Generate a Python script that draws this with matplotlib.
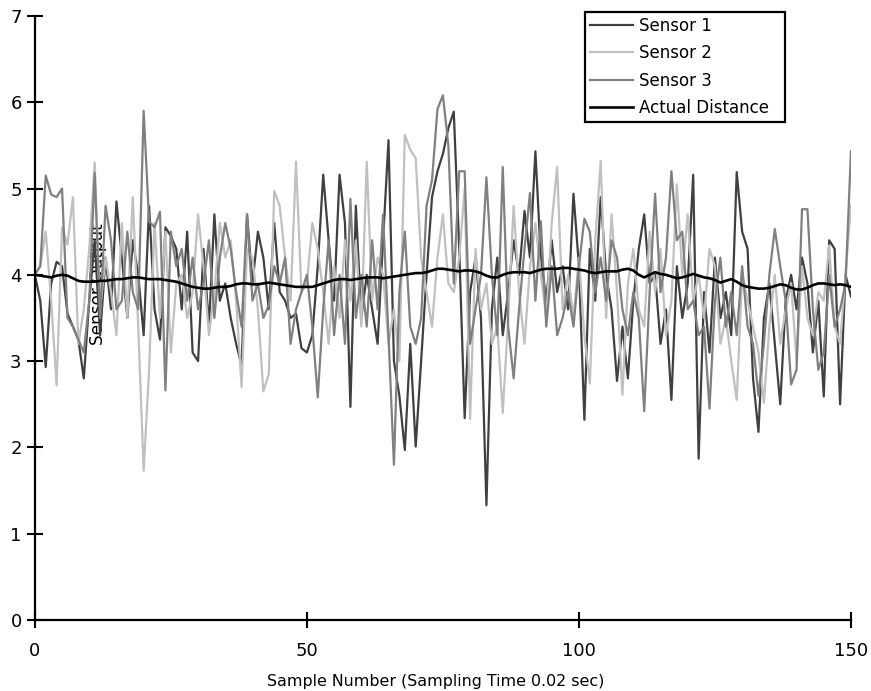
import matplotlib.pyplot as plt
import numpy as np

samples = np.arange(151)

sensor1 = [4.00, 3.70, 2.93, 3.90, 4.15, 4.10, 3.55, 3.40, 3.25, 2.80,
           3.70, 4.40, 3.30, 4.20, 3.60, 4.85, 4.20, 3.50, 4.40, 4.00,
           3.30, 4.80, 3.60, 3.25, 4.55, 4.45, 4.30, 3.60, 4.50, 3.10,
           3.00, 4.30, 3.40, 4.70, 3.70, 3.90, 3.50, 3.20, 2.95, 4.70,
           3.90, 4.50, 4.20, 3.60, 4.60, 3.80, 3.70, 3.50, 3.55, 3.15,
           3.10, 3.30, 4.10, 5.16, 4.40, 3.70, 5.16, 4.60, 2.47, 4.80,
           3.50, 4.00, 3.60, 3.20, 4.40, 5.56, 3.00, 2.60, 1.97, 3.20,
           2.01, 3.00, 4.00, 4.90, 5.20, 5.40, 5.70, 5.89, 4.30, 2.34,
           3.80, 4.20, 3.50, 1.33, 3.60, 4.20, 3.30, 3.80, 4.40, 4.00,
           4.74, 4.20, 5.43, 4.20, 3.70, 4.40, 3.80, 4.10, 3.60, 4.94,
           4.10, 2.32, 4.30, 3.70, 4.90, 4.00, 3.60, 2.77, 3.40, 2.80,
           3.70, 4.30, 4.70, 3.90, 4.00, 3.20, 3.60, 2.55, 4.10, 3.50,
           3.90, 5.16, 1.87, 3.80, 3.10, 4.20, 3.50, 3.80, 3.30, 5.19,
           4.50, 4.30, 2.80, 2.18, 3.50, 3.90, 3.20, 2.50, 3.70, 4.00,
           3.60, 4.20, 3.90, 3.10, 3.70, 2.59, 4.40, 4.30, 2.50, 4.00,
           3.75]

sensor2 = [4.00, 4.10, 4.50, 3.70, 2.72, 4.55, 4.35, 4.90, 3.20, 3.60,
           4.30, 5.30, 3.60, 4.20, 3.80, 3.30, 4.60, 3.50, 4.90, 3.40,
           1.73, 2.90, 4.60, 3.50, 4.50, 3.10, 3.90, 4.00, 3.50, 3.80,
           4.70, 4.10, 3.30, 3.80, 4.60, 4.20, 4.40, 3.70, 2.70, 4.30,
           4.20, 3.60, 2.65, 2.85, 4.97, 4.80, 4.20, 3.70, 5.31, 3.80,
           3.90, 4.60, 4.30, 3.80, 3.20, 4.10, 3.50, 4.40, 3.70, 4.40,
           3.40, 5.31, 3.70, 4.20, 4.00, 3.20, 3.60, 3.00, 5.62, 5.45,
           5.35, 4.20, 3.80, 3.40, 4.20, 4.70, 3.90, 3.80, 4.20, 5.00,
           2.33, 4.30, 3.60, 3.90, 3.20, 3.40, 2.40, 3.50, 4.80, 3.80,
           3.20, 4.10, 4.60, 4.00, 3.50, 4.60, 5.25, 3.60, 4.00, 3.50,
           4.20, 3.30, 2.74, 4.40, 5.32, 3.50, 4.70, 3.80, 2.61, 3.90,
           4.30, 3.60, 3.40, 4.50, 3.80, 4.30, 3.30, 3.70, 5.05, 4.00,
           4.70, 3.70, 4.00, 3.50, 4.30, 4.10, 3.20, 3.50, 3.00, 2.55,
           4.00, 3.70, 3.40, 3.10, 2.52, 3.40, 4.00, 3.20, 3.60, 3.90,
           3.00, 4.10, 3.50, 3.30, 3.80, 3.70, 4.34, 3.40, 3.20, 4.00,
           4.81]

sensor3 = [4.00, 4.10, 5.15, 4.93, 4.90, 5.00, 3.50, 3.40, 3.25, 3.10,
           3.70, 5.18, 3.50, 4.80, 4.40, 3.60, 3.70, 4.50, 3.80, 3.60,
           5.90, 4.62, 4.55, 4.73, 2.66, 4.50, 4.10, 4.30, 3.70, 4.20,
           3.60, 3.90, 4.40, 3.50, 4.20, 4.60, 4.30, 3.80, 3.40, 4.70,
           3.70, 3.90, 3.50, 3.65, 4.10, 3.90, 4.20, 3.20, 3.60, 3.80,
           4.00, 3.40, 2.58, 3.60, 4.40, 3.30, 4.00, 3.20, 4.88, 3.50,
           4.00, 3.40, 4.40, 3.60, 4.70, 3.30, 1.80, 3.80, 4.50, 3.40,
           3.20, 3.50, 4.80, 5.10, 5.92, 6.08, 5.50, 3.90, 5.20, 5.20,
           3.20, 3.60, 4.00, 5.13, 4.00, 3.30, 5.25, 3.40, 2.80, 3.60,
           4.30, 4.95, 3.70, 4.62, 3.40, 4.10, 3.30, 3.50, 3.80, 3.40,
           4.10, 4.65, 4.50, 3.80, 4.20, 3.70, 4.40, 4.20, 3.60, 3.30,
           3.80, 3.50, 2.42, 3.80, 4.94, 3.80, 4.20, 5.20, 4.40, 4.50,
           3.60, 3.70, 3.30, 3.40, 2.45, 3.70, 4.20, 3.40, 3.80, 3.30,
           4.10, 3.40, 3.20, 2.60, 3.20, 4.00, 4.53, 4.10, 3.70, 2.73,
           2.90, 4.76, 4.76, 3.60, 2.90, 3.10, 4.00, 3.40, 3.60, 3.90,
           5.43]

actual = [4.00, 3.99, 3.98, 3.97, 3.99, 4.00, 3.99, 3.96, 3.93, 3.92,
          3.92, 3.92, 3.93, 3.93, 3.94, 3.95, 3.95, 3.96, 3.97, 3.97,
          3.96, 3.95, 3.95, 3.95, 3.94, 3.93, 3.92, 3.90, 3.88, 3.86,
          3.85, 3.84, 3.84, 3.85, 3.86, 3.86, 3.87, 3.89, 3.90, 3.90,
          3.89, 3.89, 3.90, 3.91, 3.90, 3.89, 3.88, 3.87, 3.86, 3.86,
          3.86, 3.86, 3.88, 3.90, 3.92, 3.94, 3.95, 3.95, 3.94, 3.95,
          3.96, 3.97, 3.97, 3.97, 3.96, 3.97, 3.98, 3.99, 4.00, 4.01,
          4.02, 4.02, 4.03, 4.05, 4.07, 4.07, 4.06, 4.05, 4.04, 4.05,
          4.05, 4.04, 4.02, 3.99, 3.97, 3.97, 4.00, 4.02, 4.03, 4.03,
          4.03, 4.02, 4.04, 4.06, 4.07, 4.07, 4.07, 4.08, 4.08, 4.07,
          4.06, 4.05, 4.03, 4.02, 4.03, 4.04, 4.04, 4.04, 4.06, 4.07,
          4.05, 4.00, 3.97, 4.00, 4.03, 4.01, 4.00, 3.98, 3.96, 3.97,
          3.99, 4.01, 3.99, 3.97, 3.96, 3.94, 3.91, 3.93, 3.95, 3.92,
          3.88, 3.86, 3.85, 3.84, 3.84, 3.85, 3.87, 3.89, 3.88, 3.85,
          3.83, 3.83, 3.85, 3.88, 3.90, 3.90, 3.89, 3.88, 3.89, 3.88,
          3.86]

fig = plt.figure(figsize=(8.71, 6.91), dpi=100)
ax = fig.add_axes([0.040, 0.1027, 0.937, 0.8743])

ax.plot(samples, sensor1, color='#404040', lw=1.6, label='Sensor 1')
ax.plot(samples, sensor2, color='#c0c0c0', lw=1.6, label='Sensor 2')
ax.plot(samples, sensor3, color='#808080', lw=1.6, label='Sensor 3')
ax.plot(samples, actual, color='black', lw=1.9, label='Actual Distance')

ax.set_xlim(0, 150)
ax.set_ylim(0, 7)
ax.set_xticks([0, 50, 100, 150])
ax.set_yticks(range(8))

for side in ['top', 'right']:
    ax.spines[side].set_visible(False)
for side in ['left', 'bottom']:
    ax.spines[side].set_linewidth(1.6)
    ax.spines[side].set_zorder(5)

ax.tick_params(axis='both', direction='inout', length=11, width=1.5,
               labelsize=13, color='black')
ax.tick_params(axis='x', pad=10)
ax.tick_params(axis='y', pad=4)

ax.set_xlabel('Sample Number (Sampling Time 0.02 sec)', fontsize=11.4)
ax.xaxis.set_label_coords(0.491, -0.089)
ax.set_ylabel('Sensor Output', fontsize=12.2, va='center')
ax.yaxis.set_label_coords(0.078, 0.556)

# legend box stretched to a fixed width, entries left aligned
leg = ax.legend(loc='upper left', bbox_to_anchor=(0.674, 0.9, 0.245, 0.107),
                mode='expand', fontsize=12, frameon=True, fancybox=False,
                handlelength=2.57, handletextpad=0.36, labelspacing=0.57,
                borderpad=0.3, borderaxespad=0)
leg.get_frame().set_edgecolor('black')
leg.get_frame().set_linewidth(1.6)
leg.get_frame().set_alpha(1)

fig.savefig('out.png', dpi=100)
